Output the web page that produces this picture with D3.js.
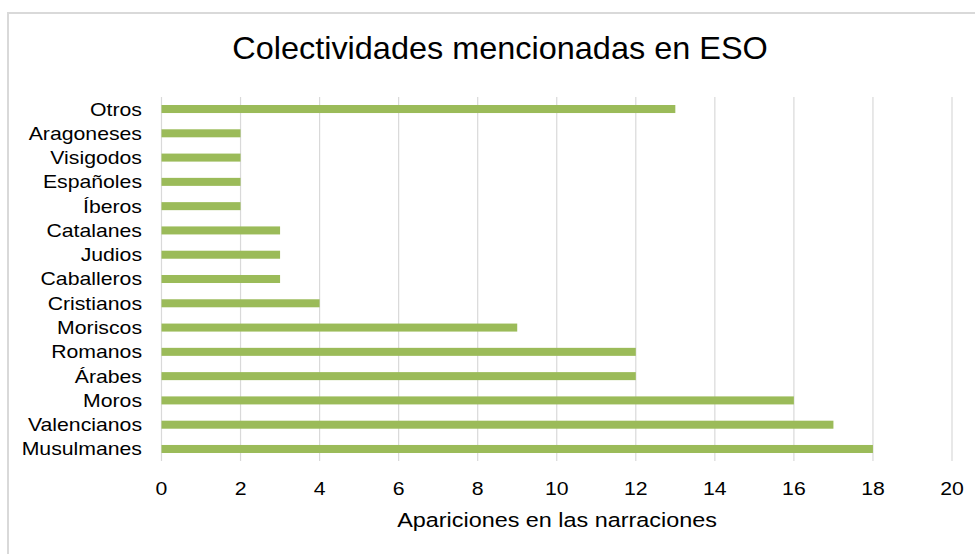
<!DOCTYPE html>
<html>
<head>
<meta charset="utf-8">
<script src="https://cdn.jsdelivr.net/npm/d3@7"></script>
<style>
  body { margin: 0; background: #fff; }
  text { font-family: "Liberation Sans", Arial, sans-serif; fill: #000; }
</style>
</head>
<body>
<script>
const categories = ['Otros', 'Aragoneses', 'Visigodos', 'Españoles', 'Íberos', 'Catalanes', 'Judios',
  'Caballeros', 'Cristianos', 'Moriscos', 'Romanos', 'Árabes', 'Moros', 'Valencianos', 'Musulmanes'];
const values = [13, 2, 2, 2, 2, 3, 3, 3, 4, 9, 12, 12, 16, 17, 18];
const xTicks = [0, 2, 4, 6, 8, 10, 12, 14, 16, 18, 20];

const W = 975, H = 554;
const stretch = 1.18; // text in the original looks a bit wide
const svg = d3.select('body').append('svg')
  .attr('width', W)
  .attr('height', H)

// chart border
svg.append('rect')
  .attr('x', 8).attr('y', 13)
  .attr('width', 980).attr('height', 560)
  .attr('fill', '#fff')
  .attr('stroke', '#d9d9d9')
  .attr('stroke-width', 2)

svg.append('text')
  .attr('transform', 'translate(500,59) scale(1.03,1)')
  .attr('text-anchor', 'middle')
  .style('font-size', '31.5px')
  .text('Colectividades mencionadas en ESO')

const x = d3.scaleLinear().domain([0, 20]).range([161.5, 952]);
const y = d3.scaleBand().domain(categories).range([97, 461]).paddingInner(0.67).paddingOuter(0.33);

// vertical gridlines
svg.append('g')
  .selectAll('line')
  .data(xTicks)
  .enter()
  .append('line')
  .attr('x1', d => x(d)).attr('x2', d => x(d))
  .attr('y1', 97).attr('y2', 461)
  .attr('stroke', '#d9d9d9')
  .attr('stroke-width', 1.2)

svg.append('g')
  .selectAll('rect')
  .data(values)
  .enter()
  .append('rect')
  .attr('x', x(0))
  .attr('y', (d, i) => y(categories[i]))
  .attr('width', d => x(d) - x(0))
  .attr('height', y.bandwidth())
  .attr('fill', '#9bbb59')

// category labels
svg.append('g')
  .selectAll('text')
  .data(categories)
  .enter()
  .append('text')
  .attr('transform', d => `translate(142,${y(d) + y.bandwidth() / 2}) scale(${stretch},1)`)
  .attr('dy', '0.36em')
  .attr('text-anchor', 'end')
  .style('font-size', '18px')
  .text(d => d)

// x tick labels
svg.append('g')
  .selectAll('text')
  .data(xTicks)
  .enter()
  .append('text')
  .attr('transform', d => `translate(${x(d)},495) scale(${stretch},1)`)
  .attr('text-anchor', 'middle')
  .style('font-size', '18px')
  .text(d => d)

svg.append('text')
  .attr('transform', 'translate(557,527) scale(1.2,1)')
  .attr('text-anchor', 'middle')
  .style('font-size', '19.5px')
  .text('Apariciones en las narraciones')
</script>
</body>
</html>
